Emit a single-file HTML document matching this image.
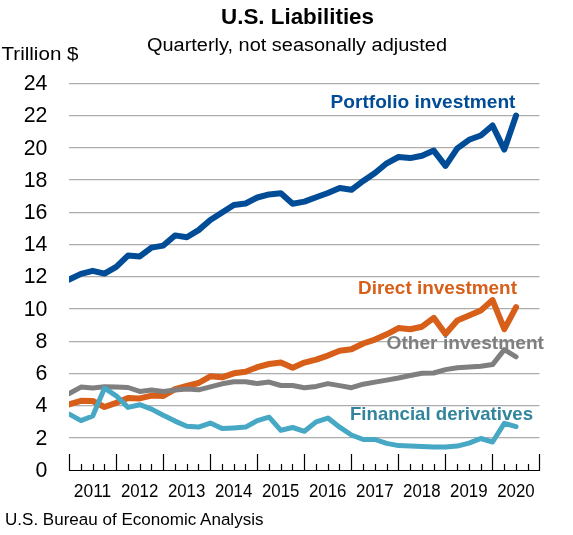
<!DOCTYPE html>
<html><head><meta charset="utf-8"><style>
html,body{margin:0;padding:0;background:#fff;}
svg{display:block;will-change:transform;}
text{font-family:"Liberation Sans",sans-serif;}
</style></head><body>
<svg width="573" height="535" viewBox="0 0 573 535">
<rect width="573" height="535" fill="#fff"/>
<g stroke="#adadad" stroke-width="1.2"><line x1="69" x2="539.5" y1="83.70" y2="83.70"/><line x1="69" x2="539.5" y1="115.70" y2="115.70"/><line x1="69" x2="539.5" y1="147.70" y2="147.70"/><line x1="69" x2="539.5" y1="179.70" y2="179.70"/><line x1="69" x2="539.5" y1="212.70" y2="212.70"/><line x1="69" x2="539.5" y1="244.70" y2="244.70"/><line x1="69" x2="539.5" y1="276.70" y2="276.70"/><line x1="69" x2="539.5" y1="308.70" y2="308.70"/><line x1="69" x2="539.5" y1="341.70" y2="341.70"/><line x1="69" x2="539.5" y1="373.70" y2="373.70"/><line x1="69" x2="539.5" y1="405.70" y2="405.70"/><line x1="69" x2="539.5" y1="437.70" y2="437.70"/></g>
<defs><clipPath id="pc"><rect x="69" y="60" width="480" height="410"/></clipPath></defs>
<g fill="none" stroke-width="6" stroke-linejoin="round" stroke-linecap="round" clip-path="url(#pc)">
<polyline stroke="#004c97" points="69.20,279.60 80.96,273.90 92.72,270.80 104.48,273.60 116.24,266.80 128.00,255.60 139.76,256.40 151.52,247.60 163.28,245.60 175.04,235.40 186.80,237.20 198.56,230.10 210.32,220.00 222.08,212.40 233.84,205.00 245.60,203.50 257.36,197.50 269.12,194.40 280.88,193.30 292.64,203.70 304.40,201.60 316.16,197.20 327.92,193.00 339.68,188.00 351.44,189.80 363.20,180.90 374.96,173.00 386.72,163.30 398.48,157.00 410.24,158.10 422.00,155.70 433.76,150.60 445.52,165.90 457.28,148.40 469.04,139.80 480.80,135.50 492.56,125.50 504.32,149.60 516.08,115.60"/>
<polyline stroke="#d75f19" points="69.20,404.40 80.96,400.80 92.72,401.00 104.48,407.00 116.24,402.80 128.00,397.90 139.76,398.40 151.52,395.60 163.28,396.00 175.04,389.10 186.80,386.00 198.56,383.00 210.32,376.30 222.08,377.30 233.84,373.30 245.60,371.80 257.36,367.10 269.12,364.00 280.88,362.60 292.64,367.70 304.40,362.60 316.16,359.60 327.92,355.60 339.68,350.70 351.44,349.30 363.20,343.50 374.96,339.60 386.72,334.30 398.48,328.10 410.24,329.30 422.00,326.70 433.76,317.80 445.52,334.00 457.28,320.60 469.04,315.60 480.80,310.40 492.56,300.10 504.32,329.20 516.08,307.10"/>
<polyline stroke="#7f7f7f" stroke-width="5" points="69.20,393.60 80.96,387.10 92.72,388.10 104.48,386.70 116.24,386.90 128.00,387.50 139.76,391.40 151.52,390.10 163.28,391.40 175.04,390.10 186.80,388.90 198.56,389.80 210.32,386.80 222.08,383.80 233.84,381.80 245.60,381.80 257.36,383.60 269.12,382.10 280.88,385.50 292.64,385.50 304.40,387.70 316.16,386.40 327.92,383.60 339.68,385.60 351.44,387.70 363.20,384.20 374.96,382.10 386.72,380.10 398.48,378.00 410.24,375.50 422.00,373.30 433.76,373.00 445.52,369.60 457.28,367.80 469.04,366.90 480.80,366.20 492.56,364.60 504.32,349.60 516.08,356.80"/>
<polyline stroke="#47a8c5" stroke-width="5" points="69.20,414.10 80.96,420.60 92.72,416.00 104.48,388.20 116.24,395.80 128.00,407.40 139.76,404.70 151.52,409.10 163.28,415.30 175.04,421.10 186.80,426.30 198.56,427.10 210.32,423.10 222.08,428.60 233.84,427.90 245.60,427.10 257.36,420.60 269.12,417.20 280.88,430.30 292.64,427.50 304.40,431.30 316.16,421.90 327.92,418.10 339.68,427.20 351.44,435.00 363.20,439.50 374.96,439.50 386.72,443.40 398.48,445.60 410.24,446.10 422.00,446.40 433.76,447.10 445.52,447.10 457.28,446.10 469.04,443.10 480.80,438.50 492.56,442.00 504.32,423.40 516.08,426.60"/>
</g>
<g stroke="#000" stroke-width="1.2"><line x1="69.5" x2="69.5" y1="454" y2="470.5"/><line x1="81.5" x2="81.5" y1="464" y2="470.5"/><line x1="93.5" x2="93.5" y1="464" y2="470.5"/><line x1="104.5" x2="104.5" y1="464" y2="470.5"/><line x1="116.5" x2="116.5" y1="454" y2="470.5"/><line x1="128.5" x2="128.5" y1="464" y2="470.5"/><line x1="140.5" x2="140.5" y1="464" y2="470.5"/><line x1="151.5" x2="151.5" y1="464" y2="470.5"/><line x1="163.5" x2="163.5" y1="454" y2="470.5"/><line x1="175.5" x2="175.5" y1="464" y2="470.5"/><line x1="187.5" x2="187.5" y1="464" y2="470.5"/><line x1="198.5" x2="198.5" y1="464" y2="470.5"/><line x1="210.5" x2="210.5" y1="454" y2="470.5"/><line x1="222.5" x2="222.5" y1="464" y2="470.5"/><line x1="234.5" x2="234.5" y1="464" y2="470.5"/><line x1="245.5" x2="245.5" y1="464" y2="470.5"/><line x1="257.5" x2="257.5" y1="454" y2="470.5"/><line x1="269.5" x2="269.5" y1="464" y2="470.5"/><line x1="281.5" x2="281.5" y1="464" y2="470.5"/><line x1="292.5" x2="292.5" y1="464" y2="470.5"/><line x1="304.5" x2="304.5" y1="454" y2="470.5"/><line x1="316.5" x2="316.5" y1="464" y2="470.5"/><line x1="328.5" x2="328.5" y1="464" y2="470.5"/><line x1="339.5" x2="339.5" y1="464" y2="470.5"/><line x1="351.5" x2="351.5" y1="454" y2="470.5"/><line x1="363.5" x2="363.5" y1="464" y2="470.5"/><line x1="375.5" x2="375.5" y1="464" y2="470.5"/><line x1="387.5" x2="387.5" y1="464" y2="470.5"/><line x1="398.5" x2="398.5" y1="454" y2="470.5"/><line x1="410.5" x2="410.5" y1="464" y2="470.5"/><line x1="422.5" x2="422.5" y1="464" y2="470.5"/><line x1="434.5" x2="434.5" y1="464" y2="470.5"/><line x1="445.5" x2="445.5" y1="454" y2="470.5"/><line x1="457.5" x2="457.5" y1="464" y2="470.5"/><line x1="469.5" x2="469.5" y1="464" y2="470.5"/><line x1="481.5" x2="481.5" y1="464" y2="470.5"/><line x1="492.5" x2="492.5" y1="454" y2="470.5"/><line x1="504.5" x2="504.5" y1="464" y2="470.5"/><line x1="516.5" x2="516.5" y1="464" y2="470.5"/><line x1="528.5" x2="528.5" y1="464" y2="470.5"/><line x1="539.5" x2="539.5" y1="454" y2="470.5"/><line x1="69" x2="540" y1="470.5" y2="470.5"/></g>
<g fill="#000" font-size="21.3"><text x="47.4" y="90.1" text-anchor="end">24</text><text x="47.4" y="122.3" text-anchor="end">22</text><text x="47.4" y="154.5" text-anchor="end">20</text><text x="47.4" y="186.7" text-anchor="end">18</text><text x="47.4" y="218.9" text-anchor="end">16</text><text x="47.4" y="251.2" text-anchor="end">14</text><text x="47.4" y="283.4" text-anchor="end">12</text><text x="47.4" y="315.6" text-anchor="end">10</text><text x="47.4" y="347.8" text-anchor="end">8</text><text x="47.4" y="380.0" text-anchor="end">6</text><text x="47.4" y="412.3" text-anchor="end">4</text><text x="47.4" y="444.5" text-anchor="end">2</text><text x="47.4" y="476.7" text-anchor="end">0</text></g>
<g fill="#000" font-size="17.5"><text x="92.5" y="497.2" text-anchor="middle" textLength="37.4" lengthAdjust="spacingAndGlyphs">2011</text><text x="139.6" y="497.2" text-anchor="middle" textLength="37.4" lengthAdjust="spacingAndGlyphs">2012</text><text x="186.6" y="497.2" text-anchor="middle" textLength="37.4" lengthAdjust="spacingAndGlyphs">2013</text><text x="233.6" y="497.2" text-anchor="middle" textLength="37.4" lengthAdjust="spacingAndGlyphs">2014</text><text x="280.7" y="497.2" text-anchor="middle" textLength="37.4" lengthAdjust="spacingAndGlyphs">2015</text><text x="327.7" y="497.2" text-anchor="middle" textLength="37.4" lengthAdjust="spacingAndGlyphs">2016</text><text x="374.8" y="497.2" text-anchor="middle" textLength="37.4" lengthAdjust="spacingAndGlyphs">2017</text><text x="421.8" y="497.2" text-anchor="middle" textLength="37.4" lengthAdjust="spacingAndGlyphs">2018</text><text x="468.8" y="497.2" text-anchor="middle" textLength="37.4" lengthAdjust="spacingAndGlyphs">2019</text><text x="515.9" y="497.2" text-anchor="middle" textLength="37.4" lengthAdjust="spacingAndGlyphs">2020</text></g>
<text x="221" y="23.7" font-size="22.3" font-weight="bold" textLength="153" lengthAdjust="spacingAndGlyphs" fill="#000">U.S. Liabilities</text>
<text x="147" y="51" font-size="18" textLength="300" lengthAdjust="spacingAndGlyphs" fill="#000">Quarterly, not seasonally adjusted</text>
<text x="1.5" y="60.3" font-size="19" textLength="77" lengthAdjust="spacingAndGlyphs" fill="#000">Trillion $</text>
<text x="5" y="524.9" font-size="16.7" textLength="258.5" lengthAdjust="spacingAndGlyphs" fill="#000">U.S. Bureau of Economic Analysis</text>
<g font-size="19" font-weight="bold">
<text x="330.5" y="107.7" textLength="185" lengthAdjust="spacingAndGlyphs" fill="#004c97">Portfolio investment</text>
<text x="358" y="294.2" textLength="159" lengthAdjust="spacingAndGlyphs" fill="#d75f19">Direct investment</text>
<text x="386.5" y="348.6" textLength="157.5" lengthAdjust="spacingAndGlyphs" fill="#7f7f7f">Other investment</text>
<text x="350" y="420.1" textLength="183" lengthAdjust="spacingAndGlyphs" fill="#31849b">Financial derivatives</text>
</g>
</svg>
</body></html>
